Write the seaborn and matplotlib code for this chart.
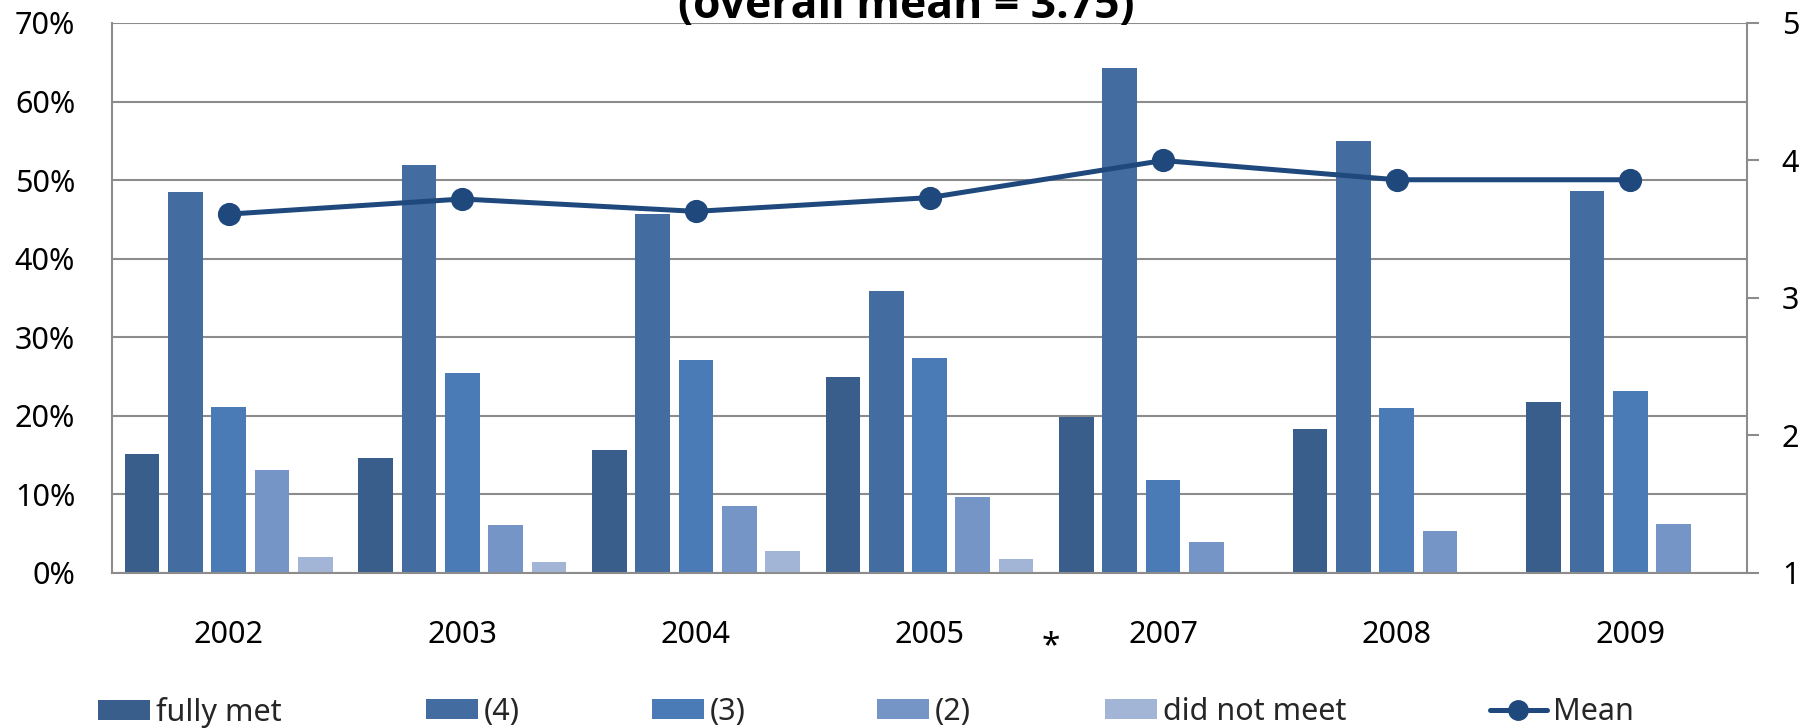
import matplotlib
matplotlib.use('Agg')
import matplotlib.pyplot as plt
import matplotlib.transforms as mtransforms
from matplotlib.patches import Patch
from matplotlib.lines import Line2D
from matplotlib.ticker import FuncFormatter
import seaborn as sns
import pandas as pd

# ---------------- data ----------------
years = ['2002', '2003', '2004', '2005', '2007', '2008', '2009']
levels = ['fully met', '(4)', '(3)', '(2)', 'did not meet']
fully_met = [15.1, 14.6, 15.6, 24.9, 19.8, 18.3, 21.8]
level4 = [48.5, 51.9, 45.7, 35.9, 64.3, 55.0, 48.6]
level3 = [21.1, 25.5, 27.1, 27.4, 11.8, 21.0, 23.2]
level2 = [13.1, 6.1, 8.5, 9.7, 3.9, 5.4, 6.3]
did_not_meet = [2.0, 1.45, 2.8, 1.75, 0.0, 0.0, 0.0]
mean_scores = [3.61, 3.72, 3.63, 3.73, 4.00, 3.86, 3.86]
mean_label = 'Mean'
title_text = '(overall mean = 3.75)'
footnote_mark = '*'
pct_ticks = [0, 10, 20, 30, 40, 50, 60, 70]
score_ticks = [1, 2, 3, 4, 5]

bar_colors = ['#3A5E8B', '#436DA0', '#4A7BB6', '#7595C7', '#A3B5D7']
line_color = '#1F497D'
grid_color = '#8C8C8C'

series = [fully_met, level4, level3, level2, did_not_meet]
rows = []
for lvl, vals in zip(levels, series):
    for yr, v in zip(years, vals):
        rows.append({'year': yr, 'level': lvl, 'pct': v})
df = pd.DataFrame(rows)
mean_df = pd.DataFrame({'year': years, 'mean': mean_scores})

# ---------------- style ----------------
sns.set_theme(style='white')
plt.rcParams['font.family'] = ['Noto Sans', 'DejaVu Sans']
FS = 22

W, H = 1812, 728
fig = plt.figure(figsize=(W / 100, H / 100), dpi=100)
L, R, T, B = 112, 1747, 23, 573
ax = fig.add_axes([L / W, 1 - B / H, (R - L) / W, (B - T) / H])

sns.barplot(data=df, x='year', y='pct', hue='level', order=years,
            hue_order=levels, palette=bar_colors, width=0.927, gap=0.2,
            saturation=1, errorbar=None, legend=False, linewidth=0, ax=ax)

ax.set_ylim(0, 70)
ax.set_xlim(-0.5, len(years) - 0.5)
ax.set_yticks(pct_ticks)
ax.yaxis.set_major_formatter(FuncFormatter(lambda v, p: f'{int(round(v))}%'))
ax.set_axisbelow(True)
ax.yaxis.grid(True, color=grid_color, linewidth=1.5)
ax.xaxis.grid(False)
ax.set_xlabel('')
ax.set_ylabel('')
for s in ['top', 'right']:
    ax.spines[s].set_visible(False)
for s in ['left', 'bottom']:
    ax.spines[s].set_color(grid_color)
    ax.spines[s].set_linewidth(1.5)
ax.tick_params(axis='x', length=0, pad=34, labelsize=FS, labelcolor='black')
ax.tick_params(axis='y', length=0, pad=26.5, labelsize=FS, labelcolor='black')

ax2 = ax.twinx()
sns.pointplot(data=mean_df, x='year', y='mean', order=years, ax=ax2,
              color=line_color, markers='o', linestyles='-',
              markersize=14, linewidth=3.6, errorbar=None)
ax2.set_ylim(1, 5)
ax2.set_yticks(score_ticks)
ax2.set_xlim(-0.5, len(years) - 0.5)
ax2.set_xlabel('')
ax2.set_ylabel('')
for s in ['top', 'left', 'bottom']:
    ax2.spines[s].set_visible(False)
ax2.spines['right'].set_color(grid_color)
ax2.spines['right'].set_linewidth(1.5)
ax2.tick_params(axis='y', length=8.6, width=1.5, color=grid_color, pad=16.5,
                labelsize=FS, labelcolor='black')
ax2.grid(False)

# asterisk between 2005 and 2007
trans = mtransforms.blended_transform_factory(ax.transData, fig.transFigure)
ax.text(3.52, 1 - 655 / H, footnote_mark, transform=trans, ha='center',
        va='baseline', fontsize=FS + 2, color='black', fontweight='bold')

# title (partially cut off at the top, as in the reference)
fig.text(906 / W, 1 - 18 / H, title_text, ha='center', va='baseline',
         fontsize=32, fontweight='bold', color='black',
         family=['Open Sans', 'Noto Sans', 'DejaVu Sans'])

# legend: one entry per slot, placed like the reference's legend row
handles = [Patch(facecolor=c, edgecolor='none') for c in bar_colors]
handles.append(Line2D([0], [0], color=line_color, linewidth=3.6, marker='o',
                      markersize=14))
labels = levels + [mean_label]
slot_x = [98, 426, 652, 877, 1105, 1490]
for h, lab, x0 in zip(handles, labels, slot_x):
    hl = 1.85 if isinstance(h, Line2D) else 1.7
    fig.legend([h], [lab], loc='center left',
               bbox_to_anchor=(x0 / W, 1 - 712 / H),
               bbox_transform=fig.transFigure, frameon=False, fontsize=FS,
               borderpad=0, borderaxespad=0, handlelength=hl,
               handleheight=0.65, handletextpad=0.2)

fig.savefig('out.png', dpi=100)
